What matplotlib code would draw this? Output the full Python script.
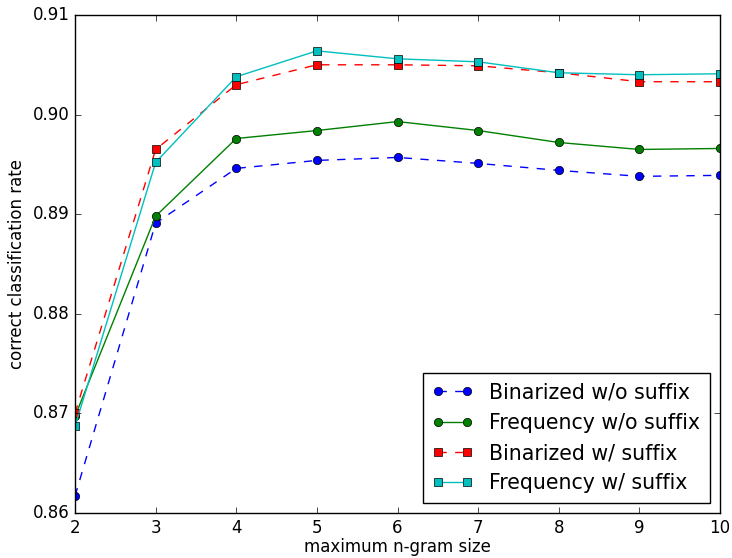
import numpy as np
import matplotlib
matplotlib.use('Agg')
import matplotlib.pyplot as plt
from matplotlib.ticker import FormatStrFormatter

plt.style.use('classic')

# maximum n-gram size
ngram = [2, 3, 4, 5, 6, 7, 8, 9, 10]

# correct classification rate per setting
bin_no_suffix = [0.8617, 0.8891, 0.8946, 0.8954, 0.8957, 0.8951, 0.8944, 0.8938, 0.8939]
freq_no_suffix = [0.8697, 0.8898, 0.8976, 0.8984, 0.8993, 0.8984, 0.8972, 0.8965, 0.8966]
bin_suffix = [0.8700, 0.8965, 0.9030, 0.9050, 0.9050, 0.9049, 0.9042, 0.9033, 0.9033]
freq_suffix = [0.8687, 0.8952, 0.9038, 0.9064, 0.9056, 0.9053, 0.9042, 0.9040, 0.9041]

fig = plt.figure(figsize=(7.32, 5.58), dpi=100)
ax = fig.add_axes([75 / 732, 1 - 513 / 558, 645 / 732, 498 / 558])

ax.plot(ngram, bin_no_suffix, 'bo--', label='Binarized w/o suffix')
ax.plot(ngram, freq_no_suffix, 'go-', label='Frequency w/o suffix')
ax.plot(ngram, bin_suffix, 'rs--', label='Binarized w/ suffix')
ax.plot(ngram, freq_suffix, 'cs-', label='Frequency w/ suffix')

ax.set_xlim(2, 10)
ax.set_ylim(0.86, 0.91)
ax.yaxis.set_major_formatter(FormatStrFormatter('%.2f'))
ax.set_xlabel('maximum n-gram size', labelpad=1)
ax.set_ylabel('correct classification rate')
ax.legend(loc='lower right', fontsize=14.8, borderaxespad=0.5,
          handletextpad=0.8, borderpad=0.45)

fig.savefig('out.png', dpi=100, facecolor='white')
